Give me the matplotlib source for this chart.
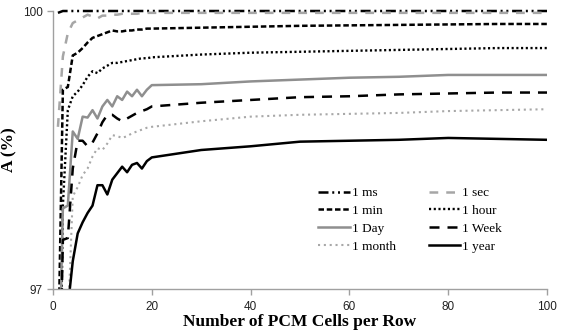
import matplotlib
matplotlib.use('Agg')
import matplotlib.pyplot as plt

# cells per row
x = list(range(1, 21)) + [30, 40, 50, 60, 70, 80, 90, 100]

a_ms = [99.98] + [100.0] * 27
a_sec = [98.75, 99.51, 99.76, 99.87, 99.90, 99.93, 99.96, 99.94, 99.92, 99.95,
         99.95, 99.96, 99.96, 99.97, 99.97, 99.97, 99.97, 99.98, 99.98, 99.98,
         99.98, 99.98, 99.98, 99.98, 99.98, 99.98, 99.98, 99.98]
a_min = [96.1, 99.15, 99.18, 99.52, 99.55, 99.60, 99.66, 99.71, 99.73, 99.75,
         99.77, 99.79, 99.78, 99.78, 99.79, 99.79, 99.80, 99.80, 99.81, 99.81,
         99.82, 99.83, 99.84, 99.845, 99.85, 99.855, 99.86, 99.86]
a_hour = [94.0, 97.9, 98.93, 99.08, 99.13, 99.20, 99.29, 99.35, 99.33, 99.38,
          99.41, 99.44, 99.44, 99.45, 99.46, 99.47, 99.48, 99.49, 99.49, 99.50,
          99.53, 99.55, 99.56, 99.57, 99.58, 99.59, 99.60, 99.60]
a_day = [95.5, 97.87, 97.9, 98.70, 98.62, 98.86, 98.85, 98.93, 98.84, 98.97,
         99.04, 98.97, 99.08, 99.04, 99.13, 99.08, 99.15, 99.08, 99.15, 99.20,
         99.21, 99.24, 99.26, 99.28, 99.29, 99.31, 99.31, 99.31]
a_week = [95.0, 97.53, 97.55, 98.30, 98.60, 98.60, 98.54, 98.58, 98.68, 98.80,
          98.88, 98.88, 98.84, 98.81, 98.84, 98.87, 98.90, 98.92, 98.94, 98.97,
          99.01, 99.04, 99.07, 99.08, 99.10, 99.11, 99.12, 99.12]
a_month = [93.0, 95.0, 96.6, 98.00, 98.10, 98.23, 98.30, 98.43, 98.52, 98.50,
           98.57, 98.66, 98.65, 98.63, 98.65, 98.68, 98.70, 98.72, 98.74, 98.75,
           98.81, 98.86, 98.88, 98.89, 98.90, 98.92, 98.93, 98.94]
a_year = [90.0, 93.0, 96.8, 97.30, 97.60, 97.72, 97.82, 97.90, 98.12, 98.12,
          98.02, 98.18, 98.25, 98.32, 98.26, 98.34, 98.36, 98.30, 98.38, 98.42,
          98.50, 98.54, 98.59, 98.60, 98.61, 98.63, 98.62, 98.61]

fig = plt.figure(figsize=(5.71, 3.33), dpi=100)
ax = fig.add_axes([53 / 571, 1 - 289 / 333, 494 / 571, 278 / 333])

l_ms, = ax.plot(x, a_ms, color='black', lw=1.8, ls=(0, (4, 1.5, 0.8, 1.5, 0.8, 1.5)),
                label='1 ms', clip_on=False)
l_sec, = ax.plot(x, a_sec, color='#a6a6a6', lw=1.8, ls=(0, (3.5, 3.2)), label='1 sec')
l_min, = ax.plot(x, a_min, color='black', lw=1.8, ls=(0, (2.2, 1.1)), label='1 min')
l_hour, = ax.plot(x, a_hour, color='black', lw=1.7, ls=(0, (0.9, 1.1)), label='1 hour')
l_day, = ax.plot(x, a_day, color='#8f8f8f', lw=1.8, label='1 Day')
l_week, = ax.plot(x, a_week, color='black', lw=1.8, ls=(0, (4, 3.2)), label='1 Week')
l_month, = ax.plot(x, a_month, color='#a8a8a8', lw=1.5, ls=(0, (1, 1.8)), label='1 month')
l_year, = ax.plot(x, a_year, color='black', lw=1.8, label='1 year')

ax.set_xlim(0, 100)
ax.set_ylim(97, 100)
ax.set_xticks([0, 20, 40, 60, 80, 100])
ax.set_yticks([97, 100])

for s in ['top', 'right']:
    ax.spines[s].set_visible(False)
for s in ['left', 'bottom']:
    ax.spines[s].set_color('#a0a0a0')
    ax.spines[s].set_linewidth(1.0)
ax.tick_params(axis='both', colors='#a0a0a0', labelcolor='#222222', labelsize=8.5,
               length=4, width=1.0, direction='out')
ax.tick_params(axis='x', pad=5)
for t in ax.get_xticklabels() + ax.get_yticklabels():
    t.set_family('Liberation Sans')

ax.set_xlabel('Number of PCM Cells per Row', family='Liberation Serif', fontweight='bold',
              fontsize=12.5, labelpad=0)
ax.set_ylabel('A (%)', family='Liberation Serif', fontweight='bold', fontsize=12.5)
ax.yaxis.set_label_coords(-0.072, 0.5)

handles = [l_ms, l_min, l_day, l_month, l_sec, l_hour, l_week, l_year]
leg = ax.legend(handles=handles, ncol=2, frameon=False, loc='upper left',
                bbox_to_anchor=(318 / 571, 1 - 187 / 333), bbox_transform=fig.transFigure,
                borderpad=0, borderaxespad=0, handlelength=2.4, handletextpad=0.15,
                columnspacing=2.5, labelspacing=0.42,
                prop={'family': 'Liberation Serif', 'size': 9.5})

plt.savefig('out.png', dpi=100)
